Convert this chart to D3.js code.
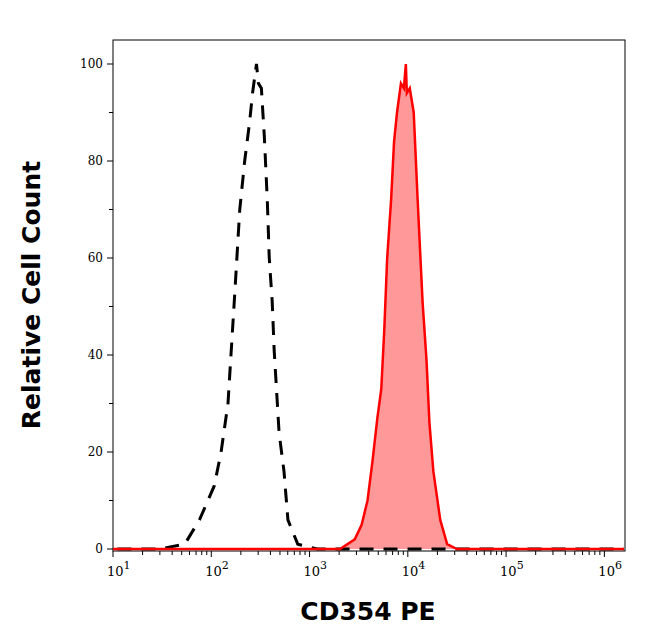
<!DOCTYPE html>
<html><head><meta charset="utf-8">
<script src="https://cdn.jsdelivr.net/npm/d3@7"></script>
<style>body{margin:0;background:#fff}</style>
</head><body><div id="chart"></div>
<script>
// histogram values: log10 intensity, relative count
const isoLog = [0.8,1.47,1.73,1.88,2.03,2.10,2.17,2.24,2.29,2.34,2.39,2.42,2.46,2.48,2.51,2.54,2.57,2.59,2.62,2.64,2.69,2.74,2.78,2.88,3.08,6.2];
const isoCount = [0,0,1,6,13,20,30,53,70,80,88,94,100,96,95,85,72,60,51,41,24,16,6,1,0,0];
const stainLog = [0.8,3.31,3.46,3.53,3.59,3.64,3.69,3.73,3.76,3.79,3.83,3.86,3.89,3.93,3.96,3.98,3.99,4.02,4.06,4.10,4.15,4.19,4.22,4.26,4.33,4.40,4.50,6.2];
const stainCount = [0,0,2,5,10,18,27,33,45,60,72,84,90,96,95,100,94,95,90,72,51,39,26,16,6,1,0,0];
const yTicks = [0,20,40,60,80,100];
const xDecades = [1,2,3,4,5,6];

const W = 646, H = 641;
const mLeft = 113, mRight = 625, mTop = 40, mBottom = 551;
const svg = d3.select("#chart").append("svg").attr("width", W).attr("height", H);

const x = d3.scaleLinear().domain([1, 6.21]).range([mLeft, mRight]);
const y = d3.scaleLinear().domain([0, 100]).range([549, 64]);

svg.append("rect").attr("x", mLeft).attr("y", mTop).attr("width", mRight - mLeft).attr("height", mBottom - mTop)
    .attr("fill", "none").attr("stroke", "#000").attr("stroke-width", 1);

const line = d3.line().x(d => x(d[0])).y(d => y(d[1]));
const area = d3.area().x(d => x(d[0])).y0(y(0)).y1(d => y(d[1]));
svg.append("clipPath").attr("id", "c").append("rect")
    .attr("x", mLeft).attr("y", mTop).attr("width", mRight - mLeft).attr("height", mBottom - mTop);

const stain = stainLog.map((v, i) => [v, stainCount[i]]);
const iso = isoLog.map((v, i) => [v, isoCount[i]]);
const g = svg.append("g").attr("clip-path", "url(#c)");
g.append("path").datum(stain).attr("d", area).attr("fill", "#ff9999");
g.append("path").datum(iso).attr("d", line).attr("fill", "none").attr("stroke", "#000")
    .attr("stroke-width", 3).attr("stroke-dasharray", "14,10");
g.append("path").datum(stain).attr("d", line).attr("fill", "none").attr("stroke", "#ff0000").attr("stroke-width", 2.5);

// y axis ticks
const yMinor = d3.range(0, 101, 10);
svg.selectAll(".ym").data(yMinor).join("line")
    .attr("x1", mLeft).attr("x2", d => d % 20 === 0 ? mLeft - 6 : mLeft - 4)
    .attr("y1", d => y(d)).attr("y2", d => y(d)).attr("stroke", "#000");
svg.selectAll(".yl").data(yTicks).join("text")
    .attr("x", mLeft - 10).attr("y", d => y(d) + 4).attr("text-anchor", "end")
    .attr("font-family", "DejaVu Serif").attr("font-size", 12).text(d => d);

// x axis ticks (log decades with minor ticks)
const minor = [];
for (let dcd = 1; dcd < 7; dcd++) for (let m = 1; m < 10; m++) {
    const v = dcd + Math.log10(m);
    if (v <= 6.21) minor.push({ v, major: m === 1 });
}
svg.selectAll(".xm").data(minor).join("line")
    .attr("x1", d => x(d.v)).attr("x2", d => x(d.v))
    .attr("y1", mBottom).attr("y2", d => d.major ? mBottom + 6 : mBottom + 4).attr("stroke", "#000");
const xl = svg.selectAll(".xl").data(xDecades).join("text")
    .attr("x", d => x(d) - 6).attr("y", mBottom + 25)
    .attr("font-family", "DejaVu Serif").attr("font-size", 13);
xl.append("tspan").text("10");
xl.append("tspan").attr("dy", -7).attr("font-size", 11).text(d => d);

svg.append("text").attr("x", 368).attr("y", 620).attr("text-anchor", "middle")
    .attr("font-family", "DejaVu Sans").attr("font-weight", "bold").attr("font-size", 25).text("CD354 PE");
svg.append("text").attr("transform", "translate(40,295) rotate(-90)").attr("text-anchor", "middle")
    .attr("font-family", "DejaVu Sans").attr("font-weight", "bold").attr("font-size", 25).text("Relative Cell Count");
</script></body></html>
